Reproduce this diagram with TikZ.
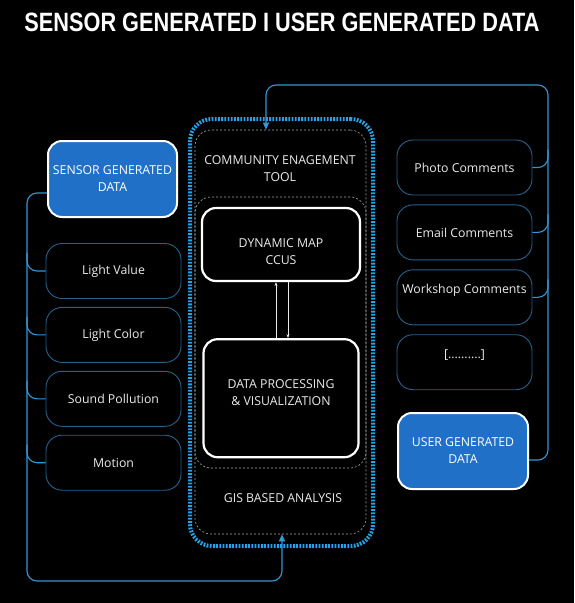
\documentclass[tikz,border=0pt]{standalone}
\usepackage{fontspec}
\setmainfont{Open Sans}
\newfontfamily\headfont{Liberation Sans}
\usetikzlibrary{positioning,arrows.meta}

\definecolor{sensorblue}{RGB}{31,112,198}
\definecolor{itemline}{RGB}{38,98,140}
\definecolor{linkblue}{RGB}{52,152,214}
\definecolor{dotblue}{RGB}{38,162,232}
\definecolor{zonegray}{RGB}{165,165,165}
\definecolor{labelgray}{RGB}{235,235,235}

\tikzset{
  source/.style={draw=white, line width=2pt, fill=sensorblue,
                 rounded corners=14pt, text=white, align=center,
                 minimum width=129pt, minimum height=76pt},
  item/.style={draw=itemline, line width=0.9pt, rounded corners=16pt,
               text=labelgray, minimum width=135pt, minimum height=55pt},
  core/.style={draw=white, line width=2.2pt, rounded corners=14pt},
  zone/.style={draw=zonegray, line width=0.6pt, dash pattern=on 2pt off 2pt,
               rounded corners=16pt},
  hubframe/.style={draw=dotblue, line width=4pt, dash pattern=on 1.8pt off 1.4pt,
                   rounded corners=22pt},
  link/.style={draw=linkblue, line width=1.1pt, rounded corners=10pt},
  flow/.style={draw=labelgray, line width=0.7pt, -{Stealth[length=4pt,width=3pt]}}
}

\begin{document}
\begin{tikzpicture}[x=1pt, y=-1pt, font=\fontsize{12.3}{17}\selectfont]
        \fill[black] (0,0) rectangle (574,603);
        \useasboundingbox (0,0) rectangle (574,603);

        % Add the title
        \node[text=white, inner sep=0pt,
              font=\headfont\bfseries\fontsize{26.5}{30}\selectfont] (head) at (282,22)
              {\scalebox{0.82}[1]{SENSOR GENERATED I USER GENERATED DATA}};

        % Add the central frames
        \node[hubframe, minimum width=183pt, minimum height=427pt] (hub) at (281.5,332.5) {};
        \node[zone, minimum width=171pt, minimum height=404pt] (tool) at (280.5,332) {};
        \node[zone, minimum width=171pt, minimum height=271pt] (map) at (280.5,332.5) {};
        \node[text=labelgray, align=center] (cet) at (280,168.5) {COMMUNITY ENAGEMENT\\TOOL};
        \node[text=labelgray] (gis) at (283,498) {GIS BASED ANALYSIS};

        \node[core, minimum width=158pt, minimum height=73pt] (dyn) at (281,244.5) {};
        \node[text=labelgray, align=center] (dyntext) at ([yshift=-7pt]dyn.center) {DYNAMIC MAP\\CCUS};
        \node[core, minimum width=155pt, minimum height=118pt,
              below=56pt of dyn] (proc) {};
        \node[text=labelgray, align=center] (proctext) at ([yshift=6pt]proc.center) {DATA PROCESSING\\\& VISUALIZATION};

        % Add the sensor side
        \node[source] (sensor) at (112.5,179) {SENSOR GENERATED\\DATA};
        \node[item] (lval) at (113.5,271) {Light Value};
        \node[item, below=8pt of lval] (lcol) {Light Color};
        \node[item, below=8pt of lcol] (sound) {Sound Pollution};
        \node[item, below=8pt of sound] (motion) {Motion};

        % Add the user side
        \node[item] (photo) at (464.5,167.5) {Photo Comments};
        \node[item, below=9pt of photo] (email) {Email Comments};
        \node[item, below=9pt of email, text depth=17pt] (workshop) {Workshop Comments};
        \node[item, below=9pt of workshop, text depth=16pt] (more) {[..........]};
        \node[source, minimum width=130pt] (user) at (463,451) {USER GENERATED\\DATA};

        \coordinate (ne) at (548,85);
        \coordinate (sw) at (27,581);

        % Connect the boxes
        \draw[link, -{Triangle[length=7pt,width=6pt]}]
            ([yshift=-9pt]user.east) -| (ne) -| ([xshift=-14.5pt]tool.north);
        \draw[link, -{Triangle[length=7pt,width=6pt]}]
            ([yshift=-14pt]sensor.west) -| (sw) -| ([xshift=1.5pt]tool.south);
        \foreach \n in {lval, lcol, sound, motion}
            \draw[link] ([yshift=18pt]\n.west -| sw) |- (\n.west);
        \foreach \n in {photo, email, workshop}
            \draw[link] (\n.east) -| ([yshift=18pt]\n.east -| ne);

        \draw[flow] ([xshift=-5pt]proc.north) -- ([xshift=-5pt]proc.north |- dyn.south);
        \draw[flow] ([xshift=7pt]dyn.south) -- ([xshift=7pt]dyn.south |- proc.north);
    \end{tikzpicture}
\end{document}
